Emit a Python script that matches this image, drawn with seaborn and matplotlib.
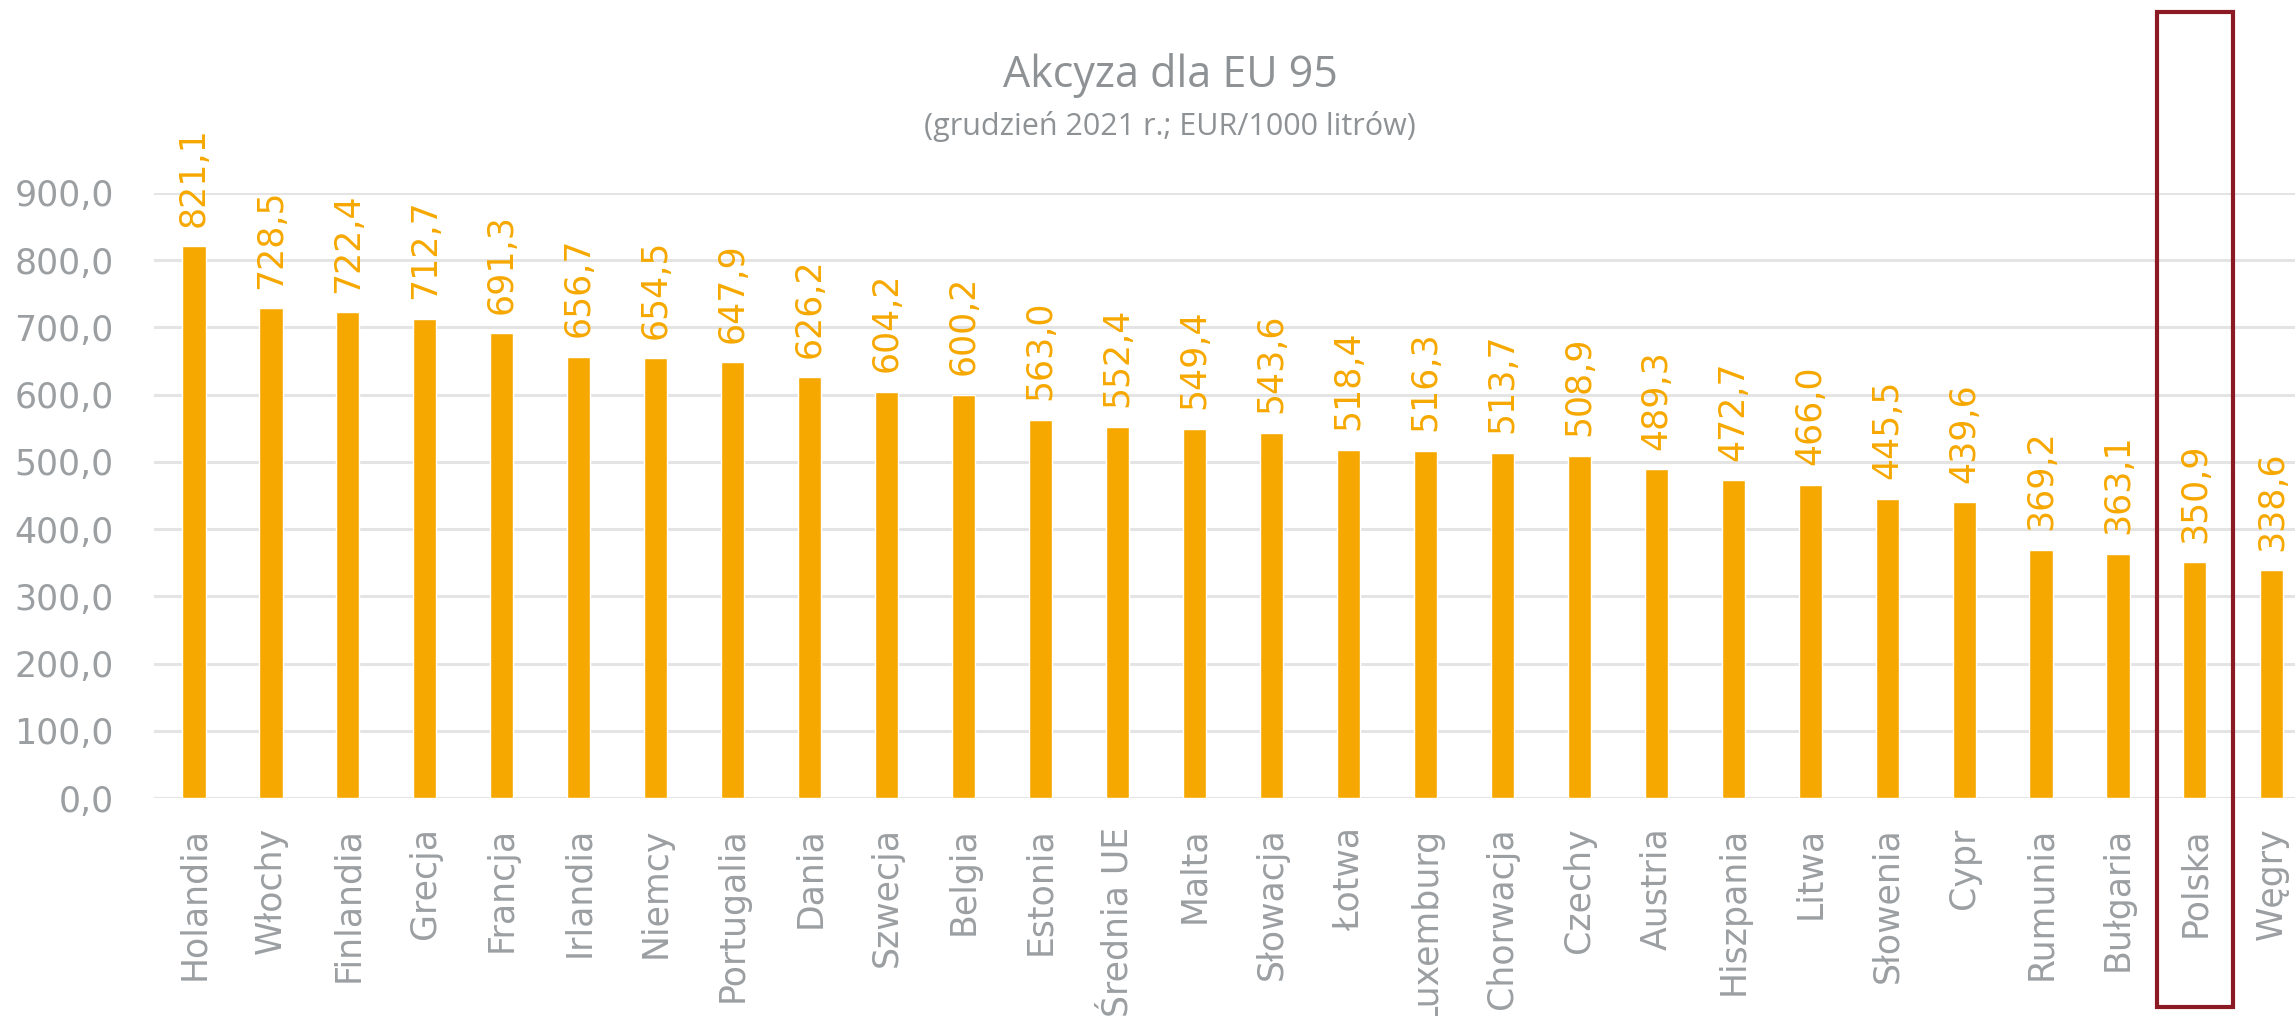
import matplotlib
matplotlib.use("Agg")
import matplotlib.pyplot as plt
import matplotlib.transforms as mtransforms
from matplotlib.patches import Rectangle
import seaborn as sns
import pandas as pd

countries = ["Holandia", "Włochy", "Finlandia", "Grecja", "Francja", "Irlandia", "Niemcy",
             "Portugalia", "Dania", "Szwecja", "Belgia", "Estonia", "Średnia UE", "Malta",
             "Słowacja", "Łotwa", "Luxemburg", "Chorwacja", "Czechy", "Austria", "Hiszpania",
             "Litwa", "Słowenia", "Cypr", "Rumunia", "Bułgaria", "Polska", "Węgry"]
values = [821.1, 728.5, 722.4, 712.7, 691.3, 656.7, 654.5, 647.9, 626.2, 604.2, 600.2,
          563.0, 552.4, 549.4, 543.6, 518.4, 516.3, 513.7, 508.9, 489.3, 472.7, 466.0,
          445.5, 439.6, 369.2, 363.1, 350.9, 338.6]
yticks = [0, 100, 200, 300, 400, 500, 600, 700, 800, 900]
title = "Akcyza dla EU 95"
subtitle = "(grudzień 2021 r.; EUR/1000 litrów)"
highlight = "Polska"

BAR = "#F6A800"
GRAY = "#9B9FA2"
TITLE_GRAY = "#8E9295"
GRID = "#E4E4E4"
BOX = "#8B1A24"

sns.set_theme(style="white")
plt.rcParams["font.family"] = ["DejaVu Sans"]

df = pd.DataFrame({"kraj": countries, "akcyza": values})

fig = plt.figure(figsize=(22.95, 10.16), dpi=100)
ax = fig.add_axes([154 / 2295, (1016 - 798) / 1016, 1 - 154 / 2295, (798 - 193) / 1016])

sns.barplot(data=df, x="kraj", y="akcyza", color=BAR, saturation=1, width=0.30, ax=ax, zorder=3)

ax.set_xlim(-0.52, 27.3)
ax.set_ylim(0, 900)
ax.set_yticks(yticks)
ax.set_yticklabels([f"{v:.1f}".replace(".", ",") for v in yticks], fontsize=25, color=GRAY)
ax.tick_params(axis="y", length=0, pad=29)
ax.tick_params(axis="x", length=0, pad=21)
ax.set_xticks(range(len(countries)))
ax.set_xticklabels(countries, rotation=90, fontsize=25, color=GRAY, va="top", ha="center")
ax.set_xlabel("")
ax.set_ylabel("")
ax.grid(axis="y", color=GRID, linewidth=2.2, zorder=0)
for s in ax.spines.values():
    s.set_visible(False)
ax.axhline(0, color=GRID, linewidth=2.2, zorder=1)

ax.bar_label(ax.containers[0], labels=[f"{v:.1f}".replace(".", ",") for v in values],
             rotation=90, padding=14, fontsize=25, color=BAR, clip_on=False)

fig.text(1170 / 2295, 1 - 75 / 1016, title, ha="center", va="center", fontsize=31,
         color=TITLE_GRAY, family=["Open Sans", "DejaVu Sans"])
fig.text(1170 / 2295, 1 - 127 / 1016, subtitle, ha="center", va="center", fontsize=22,
         color=TITLE_GRAY, family=["Open Sans", "DejaVu Sans"])

idx = countries.index(highlight)
trans = mtransforms.blended_transform_factory(ax.transData, fig.transFigure)
rect = Rectangle((idx - 0.49, 9 / 1016), 0.98, (1007 - 12) / 1016, transform=trans,
                 fill=False, edgecolor=BOX, linewidth=3, clip_on=False, zorder=10)
fig.add_artist(rect)

fig.savefig("out.png", dpi=100)
